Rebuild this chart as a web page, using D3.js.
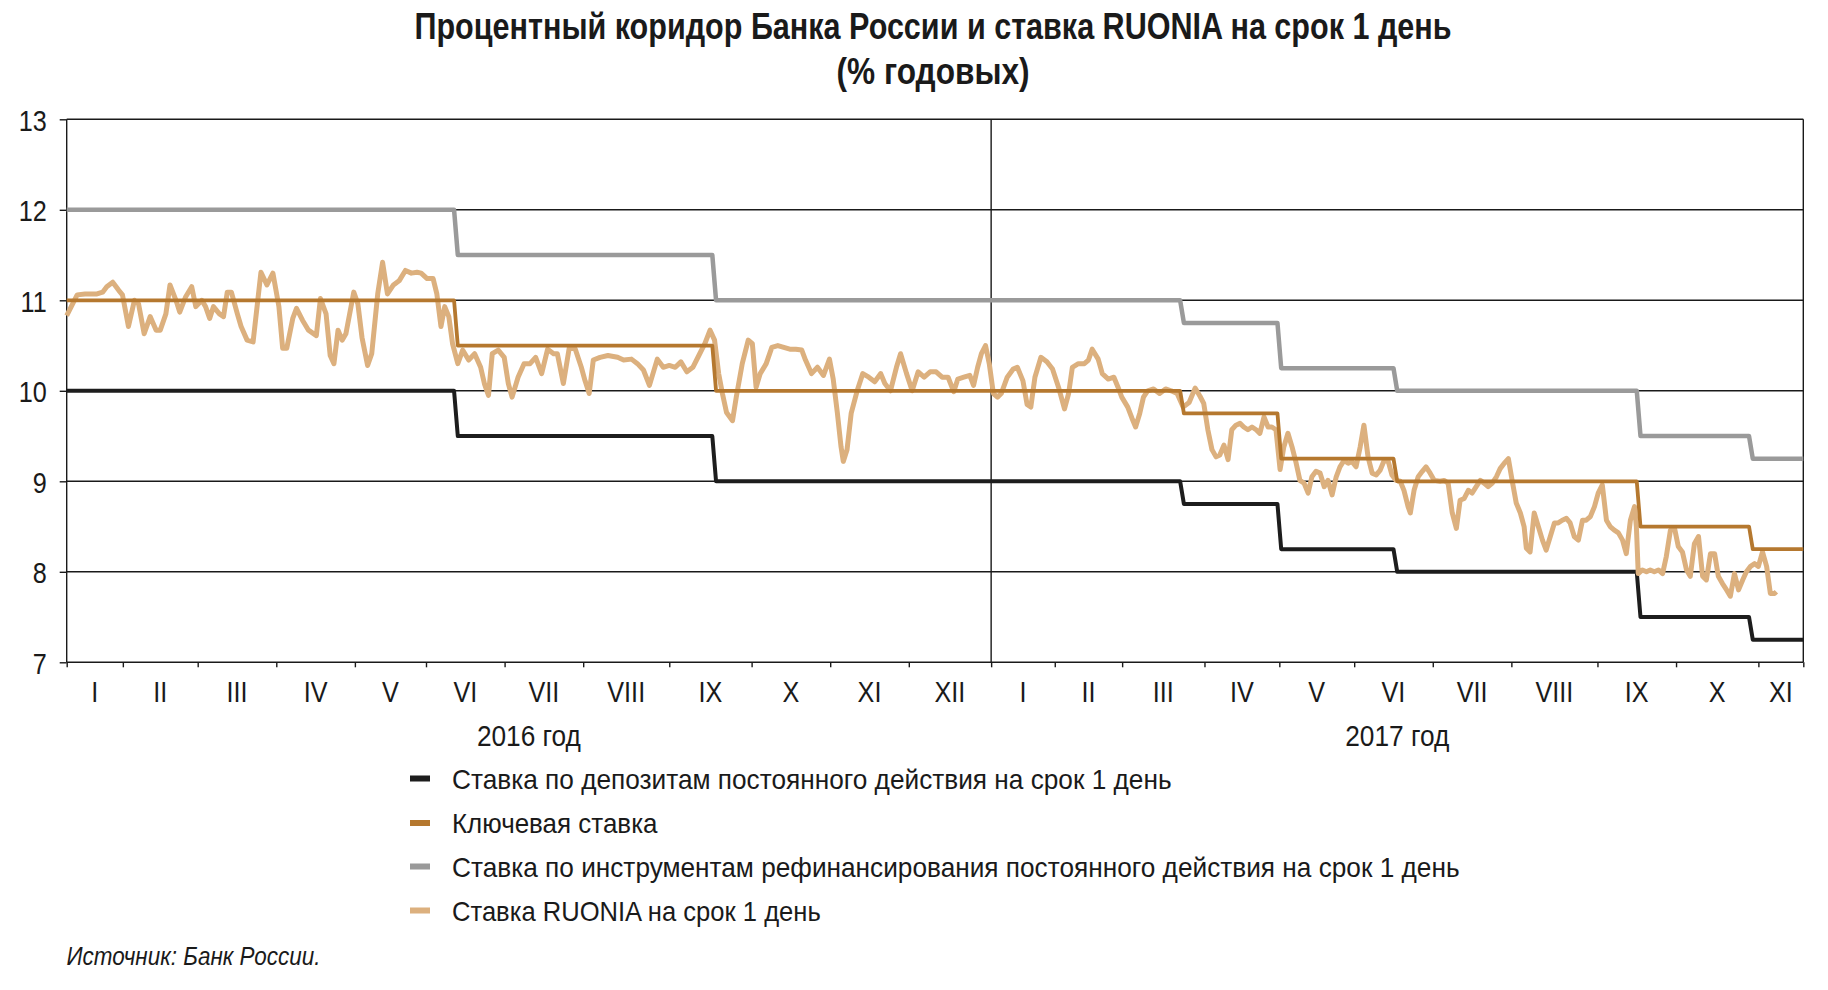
<!DOCTYPE html>
<html><head><meta charset="utf-8">
<script src="https://cdn.jsdelivr.net/npm/d3@7"></script>
<style>body{margin:0;background:#fff}svg{display:block}</style>
</head><body>
<svg id="chart" width="1828" height="990"></svg>
<script>
// ---------- data ----------
const titleLines = ["Процентный коридор Банка России и ставка RUONIA на срок 1 день", "(% годовых)"];
const sourceText = "Источник: Банк России.";
const yTicks = [7, 8, 9, 10, 11, 12, 13];
const monthLabels2016 = ["I","II","III","IV","V","VI","VII","VIII","IX","X","XI","XII"];
const monthLabels2017 = ["I","II","III","IV","V","VI","VII","VIII","IX","X","XI"];
// working days per month (x axis runs over trading days)
const workDays2016 = [15,20,21,21,19,21,21,23,22,21,21,22];
const workDays2017 = [17,18,22,20,20,21,21,23,21,22,12];
const yearLabels = ["2016 год", "2017 год"];
// policy rate decisions (working-day index where the new level starts)
const rateChangeDay = [0, 104, 173, 298, 324, 355, 420, 450];
const depositRate = [10, 9.5, 9, 8.75, 8.25, 8, 7.5, 7.25];
const keyRate     = [11, 10.5, 10, 9.75, 9.25, 9, 8.5, 8.25];
const lendingRate = [12, 11.5, 11, 10.75, 10.25, 10, 9.5, 9.25];
// RUONIA (working-day index, % p.a.)
const ruoniaDay = [0,2.8,4.9,8.1,9.6,10.7,12.3,13.9,14.9,16.5,18.1,19.2,20.7,22.3,23.9,25.0,26.5,27.6,29.2,30.2,31.8,33.4,34.5,36.1,37.1,38.2,39.2,40.8,41.9,42.9,44.0,45.6,46.6,48.2,49.8,51.9,53.5,55.1,56.7,57.7,58.8,60.4,61.4,63.0,64.6,66.7,67.8,69.3,70.4,71.4,72.5,73.6,74.6,76.7,77.8,78.9,80.4,81.5,83.1,84.4,85.7,87.3,88.9,90.5,92.1,93.6,94.7,96.3,97.9,98.9,100.0,101.0,102.1,103.1,104.5,105.8,107.4,109.0,110.6,111.6,112.7,113.7,115.3,116.9,118.0,119.0,120.6,122.2,123.8,125.3,126.9,128.5,130.1,131.1,132.7,134.3,135.9,137.5,138.5,139.6,140.7,
142.5,144.6,147.2,148.8,150.9,152.5,154.1,155.7,157.8,159.4,161.0,162.6,164.1,165.7,167.3,168.9,170.5,171.9,173.1,174.2,175.2,176.3,177.9,178.9,180.5,182.1,183.2,184.2,185.3,186.9,188.4,190.0,191.6,193.2,194.8,196.4,197.4,199.0,200.6,202.2,203.8,204.8,205.9,206.9,207.5,208.5,209.6,211.2,212.7,214.3,215.9,217.5,218.6,220.1,221.7,222.8,224.4,225.9,227.5,229.1,230.7,232.3,233.9,235.5,237.0,238.1,239.7,241.3,242.3,243.4,244.4,245.5,246.5,247.6,248.7,249.7,251.3,252.9,254.0,255.5,256.6,257.6,258.7,260.3,261.9,263.4,265.0,266.6,267.7,268.7,270.3,271.9,273.0,274.0,275.6,276.7,278.3,279.8,280.9,281.9,283.5,284.6,285.6,286.7,287.7,288.8,290.4,292.0,293.6,295.1,296.7,298.3,299.9,301.5,
302.8,303.8,304.9,306.0,307.1,308.1,309.2,310.3,311.3,312.4,313.5,314.5,315.6,316.7,317.8,318.8,319.9,321.0,322.0,323.1,324.2,325.2,326.3,327.4,328.5,329.5,330.6,331.7,332.7,333.8,334.9,336.0,337.0,338.1,339.2,340.2,341.3,342.4,343.4,344.5,345.6,346.6,347.7,348.8,349.9,350.9,352.0,353.1,354.1,355.2,356.3,357.3,358.4,359.0,360.0,361.1,362.2,363.2,364.3,365.4,367.0,368.0,369.1,370.2,371.3,372.3,373.4,374.5,375.5,376.6,377.7,378.7,379.8,380.9,382.0,383.0,384.1,385.2,386.2,387.3,388.4,389.4,390.0,391.0,392.1,393.2,394.3,395.3,396.4,397.5,398.5,399.6,400.7,401.7,402.8,403.9,405.0,406.0,407.1,408.2,409.2,410.3,411.4,412.4,413.5,414.6,415.7,416.7,417.8,418.9,419.4,419.9,421.0,422.1,423.1,424.2,425.3,426.4,427.4,428.5,429.6,430.6,431.7,432.8,433.8,434.9,436.0,437.1,438.1,439.2,440.3,441.3,442.4,443.5,444.5,445.6,446.7,447.8,448.8,449.9,451.0,452.0,453.1,454.2,455.2,456.3,456.8];
const ruoniaRate = [10.83,11.06,11.07,11.07,11.09,11.15,11.20,11.11,11.06,10.71,11.00,10.96,10.63,10.82,10.67,10.67,10.85,11.17,11.00,10.87,11.04,11.15,10.93,11.00,10.93,10.80,10.93,10.85,10.82,11.09,11.09,10.85,10.71,10.56,10.54,11.31,11.17,11.30,10.93,10.47,10.47,10.80,10.91,10.78,10.67,10.61,11.02,10.85,10.39,10.30,10.67,10.56,10.63,11.09,10.96,10.59,10.28,10.41,11.07,11.42,11.07,11.17,11.22,11.33,11.30,11.31,11.30,11.24,11.24,11.07,10.71,10.93,10.82,10.52,10.30,10.45,10.34,10.41,10.26,10.08,9.95,10.41,10.45,10.37,10.08,9.93,10.15,10.30,10.30,10.37,10.19,10.46,10.41,10.41,10.08,10.48,10.46,10.26,10.11,9.97,10.34,
10.37,10.39,10.37,10.34,10.35,10.30,10.23,10.06,10.35,10.26,10.28,10.26,10.32,10.21,10.26,10.39,10.52,10.67,10.56,10.19,9.97,9.76,9.67,9.93,10.30,10.56,10.52,10.04,10.19,10.30,10.48,10.50,10.48,10.46,10.46,10.45,10.34,10.19,10.26,10.17,10.35,10.13,9.76,9.38,9.22,9.35,9.75,10.00,10.19,10.15,10.10,10.19,10.08,10.00,10.26,10.41,10.19,10.00,10.21,10.15,10.21,10.21,10.15,10.15,9.99,10.13,10.15,10.17,10.06,10.26,10.41,10.50,10.30,9.97,9.93,9.97,10.15,10.24,10.26,10.11,9.85,9.82,10.15,10.37,10.32,10.24,10.04,9.80,9.97,10.26,10.30,10.30,10.34,10.46,10.35,10.19,10.13,10.15,10.04,9.93,9.82,9.70,9.60,9.75,9.93,10.00,10.02,9.97,10.02,10.00,9.97,9.82,9.87,10.03,
9.94,9.86,9.57,9.35,9.27,9.29,9.40,9.24,9.57,9.62,9.64,9.60,9.57,9.60,9.57,9.53,9.71,9.60,9.60,9.57,9.13,9.38,9.53,9.38,9.20,9.01,8.98,8.87,9.05,9.11,9.09,8.94,9.01,8.85,9.05,9.16,9.23,9.20,9.22,9.16,9.38,9.62,9.27,9.09,9.07,9.12,9.23,9.22,9.07,9.01,9.00,8.90,8.72,8.65,8.90,9.05,9.11,9.16,9.09,9.01,9.00,9.01,8.98,8.65,8.48,8.79,8.81,8.90,8.87,8.94,9.01,8.98,8.94,8.98,9.05,9.14,9.20,9.25,9.01,8.76,8.65,8.50,8.26,8.22,8.65,8.50,8.35,8.24,8.39,8.54,8.54,8.57,8.59,8.54,8.39,8.35,8.57,8.57,8.61,8.72,8.87,8.96,8.57,8.50,8.46,8.43,8.35,8.20,8.57,8.72,8.50,7.98,8.02,8.00,8.02,8.00,8.02,7.98,8.17,8.46,8.48,8.28,8.22,8.02,7.95,8.31,8.39,7.95,7.91,8.20,8.20,7.95,7.87,7.80,7.73,7.98,7.80,7.91,8.00,8.06,8.09,8.06,8.22,8.06,7.76,7.76,7.78];
const legendLabels = [
  "Ставка по депозитам постоянного действия на срок 1 день",
  "Ключевая ставка",
  "Ставка по инструментам рефинансирования постоянного действия на срок 1 день",
  "Ставка RUONIA на срок 1 день"
];

// ---------- styles ----------
const colDeposit = "#1d1d1d", colKey = "#b5782f", colLending = "#9a9a9a", colRuonia = "#dcb07e";
const seriesColors = [colDeposit, colKey, colLending, colRuonia];

function fontAvailable(name){
  const c = document.createElement("canvas").getContext("2d");
  const s = "Ставка RUONIA 1234 VIII";
  c.font = `40px "${name}", monospace`; const a = c.measureText(s).width;
  c.font = `40px monospace`; const b = c.measureText(s).width;
  return Math.abs(a-b) > 0.5;
}
const hasNarrow = fontAvailable("Liberation Sans Narrow");
const FONT = hasNarrow ? '"Liberation Sans Narrow", "Liberation Sans", Arial, sans-serif' : '"Liberation Sans", Arial, sans-serif';
const squeeze = hasNarrow ? 1 : 0.84;

const svg = d3.select("#chart");
const P = {left: 66.7, right: 1803.3, top: 119.3, bottom: 662.3};

const allDays = workDays2016.concat(workDays2017);
const totalDays = d3.sum(allDays);
const monthStarts = [0, ...Array.from(d3.cumsum(allDays))];   // month boundaries
const monthLabels = monthLabels2016.concat(monthLabels2017);
const days2016 = d3.sum(workDays2016);

const x = d3.scaleLinear().domain([0, totalDays]).range([P.left, P.right]);
const y = d3.scaleLinear().domain([7, 13]).range([P.bottom, P.top]);

function fitText(sel, targetWidth){
  sel.each(function(){
    if (targetWidth) { this.setAttribute("textLength", targetWidth); this.setAttribute("lengthAdjust", "spacingAndGlyphs"); }
    else if (squeeze !== 1) {
      const w = this.getComputedTextLength();
      this.setAttribute("textLength", w*squeeze); this.setAttribute("lengthAdjust", "spacingAndGlyphs");
    }
  });
}

// ---------- title ----------
const titleBase = [38.5, 83.5], titleW = [1037, 193];
titleLines.forEach((t, i) => {
  svg.append("text").attr("x", 933).attr("y", titleBase[i]).attr("text-anchor", "middle")
    .attr("font-family", FONT).attr("font-weight", "bold").attr("font-size", 36).attr("fill", "#1a1a1a")
    .text(t).call(fitText, titleW[i]);
});

// ---------- grid ----------
const grid = svg.append("g");
grid.selectAll("line.h").data(yTicks).join("line")
  .attr("x1", P.left).attr("x2", P.right).attr("y1", d => y(d)).attr("y2", d => y(d))
  .attr("stroke", "#1a1a1a").attr("stroke-width", 1.4);
[0, days2016, totalDays].forEach(d => {
  grid.append("line").attr("x1", x(d)).attr("x2", x(d)).attr("y1", P.top).attr("y2", P.bottom)
    .attr("stroke", "#1a1a1a").attr("stroke-width", 1.4);
});

// ---------- axes ----------
const yAxis = svg.append("g").attr("transform", `translate(${P.left},0)`)
  .call(d3.axisLeft(y).tickValues(yTicks).tickSize(7).tickPadding(13).tickFormat(d3.format("d")));
yAxis.select(".domain").remove();
yAxis.selectAll("line").attr("stroke", "#1a1a1a").attr("stroke-width", 1.4);
yAxis.selectAll("text").attr("font-family", FONT).attr("font-size", 30).attr("fill", "#1a1a1a")
  .attr("dy", "0.36em").call(fitText);

const xAxis = svg.append("g").attr("transform", `translate(0,${P.bottom})`)
  .call(d3.axisBottom(x).tickValues(monthStarts).tickSize(5).tickFormat(""));
xAxis.select(".domain").remove();
xAxis.selectAll("line").attr("stroke", "#1a1a1a").attr("stroke-width", 1.4);

svg.append("g").selectAll("text").data(monthLabels).join("text")
  .attr("x", (d, i) => x((monthStarts[i] + monthStarts[i+1]) / 2))
  .attr("y", 702).attr("text-anchor", "middle")
  .attr("font-family", FONT).attr("font-size", 30).attr("fill", "#1a1a1a")
  .text(d => d).call(fitText);

const yearMid = [days2016 / 2, (days2016 + totalDays) / 2];
yearLabels.forEach((t, i) => {
  svg.append("text").attr("x", x(yearMid[i])).attr("y", 746).attr("text-anchor", "middle")
    .attr("font-family", FONT).attr("font-size", 29).attr("fill", "#1a1a1a")
    .text(t).call(fitText, 104);
});

// ---------- series ----------
function stepPoints(values){
  const pts = [];
  values.forEach((v, k) => {
    const s = rateChangeDay[k];
    const e = k < values.length - 1 ? rateChangeDay[k+1] : totalDays;
    pts.push([k === 0 ? s : s + 0.5, v]);
    pts.push([k === values.length - 1 ? e : e - 0.5, v]);
  });
  return pts;
}
const line = d3.line().x(d => x(d[0])).y(d => y(d[1]));

svg.append("path").datum(stepPoints(lendingRate)).attr("d", line)
  .attr("fill", "none").attr("stroke", colLending).attr("stroke-width", 4.5).attr("stroke-linejoin", "round");
svg.append("path").datum(stepPoints(depositRate)).attr("d", line)
  .attr("fill", "none").attr("stroke", colDeposit).attr("stroke-width", 4).attr("stroke-linejoin", "round");
svg.append("path").datum(ruoniaDay.map((d, i) => [d, ruoniaRate[i]])).attr("d", line)
  .attr("fill", "none").attr("stroke", colRuonia).attr("stroke-width", 5).attr("stroke-linejoin", "round");
svg.append("path").datum(stepPoints(keyRate)).attr("d", line)
  .attr("fill", "none").attr("stroke", colKey).attr("stroke-width", 3.8).attr("stroke-linejoin", "round");

// ---------- legend ----------
const legY = [778.5, 823, 866.5, 910.5];
const legW = [719.6, 205.5, 1007.6, 368.7];
const leg = svg.append("g");
legendLabels.forEach((t, i) => {
  leg.append("rect").attr("x", 410).attr("y", legY[i] - 3).attr("width", 20).attr("height", 6)
    .attr("fill", seriesColors[i]);
  leg.append("text").attr("x", 452).attr("y", legY[i] + 10).attr("font-family", FONT)
    .attr("font-size", 28).attr("fill", "#1a1a1a").text(t).call(fitText, legW[i]);
});

// ---------- source ----------
svg.append("text").attr("x", 66.5).attr("y", 965).attr("font-family", FONT).attr("font-style", "italic")
  .attr("font-size", 26).attr("fill", "#1a1a1a").text(sourceText).call(fitText, 254);
</script>
</body></html>
